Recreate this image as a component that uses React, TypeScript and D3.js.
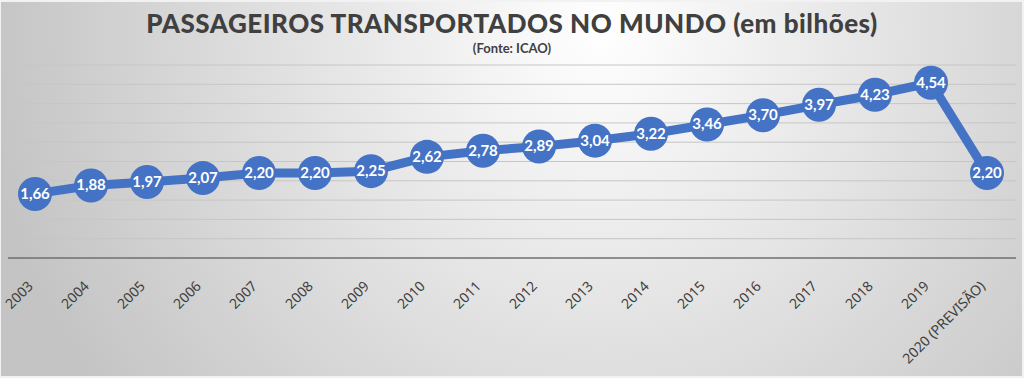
import React from "react";
import * as d3 from "d3";

const categories = ["2003","2004","2005","2006","2007","2008","2009","2010","2011","2012","2013","2014","2015","2016","2017","2018","2019","2020 (PREVISÃO)"];
const passengers = [1.66,1.88,1.97,2.07,2.20,2.20,2.25,2.62,2.78,2.89,3.04,3.22,3.46,3.70,3.97,4.23,4.54,2.20];
const gridTicks = [0,0.5,1,1.5,2,2.5,3,3.5,4,4.5,5];
const title = "PASSAGEIROS TRANSPORTADOS NO MUNDO (em bilhões)";
const subtitle = "(Fonte: ICAO)";

export default function App() {
  const W = 1024, H = 378;
  const left = 7, right = 1015, top = 65, bottom = 258;
  const x = d3.scaleBand<string>().domain(categories).range([left, right]);
  const y = d3.scaleLinear().domain([0, 5]).range([bottom, top]);
  const cx = (c: string) => (x(c) as number) + x.bandwidth() / 2;
  const line = d3.line<number>().x((_, i) => cx(categories[i])).y(d => y(d));
  const fmt = (v: number) => v.toFixed(2).replace(".", ",");
  return (
    <svg width={W} height={H} style={{ position: "absolute", left: 0, top: 0, display: "block" }}>
      <defs>
        <radialGradient id="bg" gradientUnits="userSpaceOnUse" cx={600} cy={30} r={620}>
          <stop offset="0" stopColor="#ffffff" />
          <stop offset="1" stopColor="#c4c4c4" />
        </radialGradient>
      </defs>
      <rect x={0} y={0} width={W} height={H} fill="#f2f2f2" />
      <rect x={1} y={2} width={W - 3} height={H - 4} fill="url(#bg)" />
      {gridTicks.filter(t => t > 0).map(t => (
        <line key={t} x1={left + 1} x2={right + 1} y1={y(t)} y2={y(t)} stroke="#c6c6c6" strokeWidth={1} />
      ))}
      <line x1={left + 1} x2={right + 1} y1={y(0)} y2={y(0)} stroke="#6f6f6f" strokeWidth={1.5} />
      <text x={512} y={33} textAnchor="middle" fontFamily="Lato" fontWeight="900" fontSize={26} letterSpacing={0.5} fill="#404040">{title}</text>
      <text x={512} y={53} textAnchor="middle" fontFamily="Lato" fontWeight="bold" fontSize={13} fill="#404040">{subtitle}</text>
      <path d={line(passengers) || ""} fill="none" stroke="#4472C4" strokeWidth={9} strokeLinejoin="round" />
      {passengers.map((v, i) => (
        <g key={i}>
          <circle cx={cx(categories[i])} cy={y(v)} r={17} fill="#4472C4" />
          <text x={cx(categories[i])} y={y(v) + 5} textAnchor="middle" fontFamily="Lato" fontWeight="bold" fontSize={15} fill="#ffffff">{fmt(v)}</text>
        </g>
      ))}
      {categories.map(c => (
        <text key={c} transform={`translate(${cx(c) - 1},${bottom + 29}) rotate(-45)`} textAnchor="end" fontFamily="'Noto Sans', sans-serif" fontSize={14} fill="#404040">{c}</text>
      ))}
    </svg>
  );
}
